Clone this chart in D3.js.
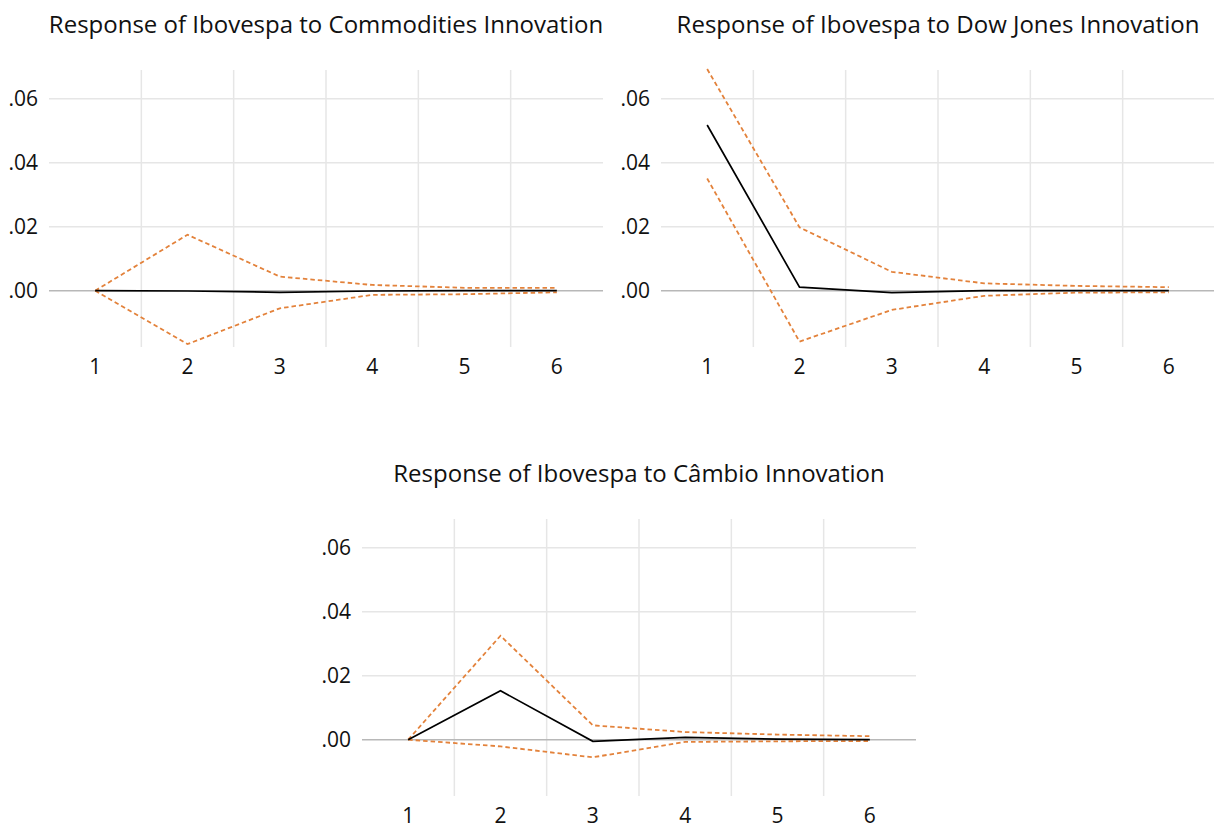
<!DOCTYPE html>
<html lang="en">
<head>
    <meta charset="UTF-8">
    <script src="https://d3js.org/d3.v7.min.js"></script>
    <title>Impulse responses</title>
    <style>
        body { margin: 0; background: #fff; }
        svg { display: block; }
        text { font-family: "Open Sans", "Noto Sans", sans-serif; fill: #111; }
    </style>
</head>
<body>
    <svg id="chart" width="1214" height="828"></svg>

    <script>
        // periods on the x axis
        const periods = [1, 2, 3, 4, 5, 6];
        const yTicks = [0, 0.02, 0.04, 0.06];

        // response of Ibovespa (point estimate, upper and lower bands)
        const commResp  = [0.0000, -0.0001, -0.0005, -0.0001, 0.0000, 0.0000];
        const commUpper = [0.0000, 0.0175, 0.0044, 0.0018, 0.0009, 0.0009];
        const commLower = [0.0000, -0.0167, -0.0055, -0.0013, -0.0011, -0.0005];

        const dowResp  = [0.0518, 0.0011, -0.0006, 0.0000, 0.0000, 0.0000];
        const dowUpper = [0.0693, 0.0198, 0.0059, 0.0023, 0.0015, 0.0011];
        const dowLower = [0.0351, -0.0159, -0.0060, -0.0016, -0.0006, -0.0005];

        const camResp  = [0.0000, 0.0153, -0.0005, 0.0007, 0.0002, 0.0000];
        const camUpper = [0.0000, 0.0325, 0.0045, 0.0024, 0.0016, 0.0011];
        const camLower = [0.0000, -0.0021, -0.0055, -0.0007, -0.0005, -0.0004];

        const panels = [
            { title: "Response of Ibovespa to Commodities Innovation", left: 49, top: 70,
              resp: commResp, upper: commUpper, lower: commLower },
            { title: "Response of Ibovespa to Dow Jones Innovation", left: 661, top: 70,
              resp: dowResp, upper: dowUpper, lower: dowLower },
            { title: "Response of Ibovespa to Câmbio Innovation", left: 362, top: 519,
              resp: camResp, upper: camUpper, lower: camLower }
        ];

        const width = 554, height = 277;
        const svg = d3.select("#chart");

        const x = d3.scaleBand().domain(periods).range([0, width]);
        const y = d3.scaleLinear().domain([-0.0176, 0.069]).range([height, 0]);
        const fmt = d => d3.format(".2f")(d).replace(/^0/, "").replace(/^-0/, "-");

        const line = d3.line()
            .x((d, i) => x(periods[i]) + x.bandwidth() / 2)
            .y(d => y(d));

        panels.forEach(p => {
            const g = svg.append("g").attr("transform", `translate(${p.left},${p.top})`);

            // horizontal grid
            g.selectAll(".hgrid").data(yTicks.filter(d => d !== 0)).join("line")
                .attr("x1", 0).attr("x2", width)
                .attr("y1", d => y(d)).attr("y2", d => y(d))
                .attr("stroke", "#e6e6e6").attr("stroke-width", 1.5);

            // vertical grid between periods
            g.selectAll(".vgrid").data(periods.slice(1)).join("line")
                .attr("x1", d => x(d)).attr("x2", d => x(d))
                .attr("y1", 0).attr("y2", height)
                .attr("stroke", "#e6e6e6").attr("stroke-width", 1.5);

            // zero line
            g.append("line")
                .attr("x1", 0).attr("x2", width)
                .attr("y1", y(0)).attr("y2", y(0))
                .attr("stroke", "#b8b8b8").attr("stroke-width", 1.5);

            // y tick labels
            g.selectAll(".ylab").data(yTicks).join("text")
                .attr("x", -11).attr("y", d => y(d))
                .attr("dy", "0.35em")
                .attr("text-anchor", "end")
                .attr("font-size", 21)
                .text(fmt);

            // x tick labels
            g.selectAll(".xlab").data(periods).join("text")
                .attr("x", d => x(d) + x.bandwidth() / 2)
                .attr("y", height + 27)
                .attr("text-anchor", "middle")
                .attr("font-size", 21)
                .text(d => d);

            // bands
            [p.upper, p.lower].forEach(s => {
                g.append("path").datum(s)
                    .attr("d", line)
                    .attr("fill", "none")
                    .attr("stroke", "#e3823b")
                    .attr("stroke-width", 1.8)
                    .attr("stroke-dasharray", "4.5,3");
            });

            // response
            g.append("path").datum(p.resp)
                .attr("d", line)
                .attr("fill", "none")
                .attr("stroke", "#000")
                .attr("stroke-width", 1.7);

            // title
            g.append("text")
                .attr("x", width / 2)
                .attr("y", -37)
                .attr("text-anchor", "middle")
                .attr("font-size", 24)
                .text(p.title);
        });
    </script>
</body>
</html>
